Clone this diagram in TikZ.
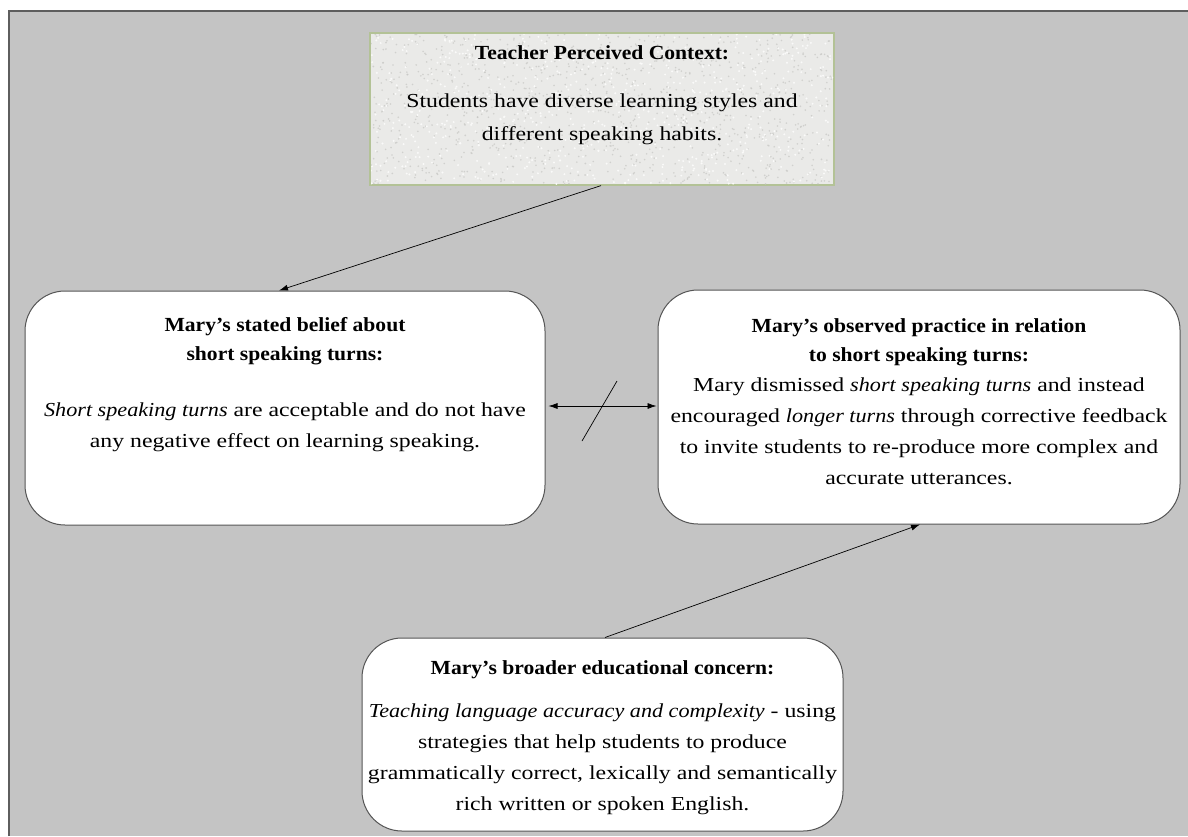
\documentclass[tikz,border=0pt]{standalone}
\usepackage{fontspec}
\setmainfont{Liberation Serif}[FakeStretch=1.2]
\newfontfamily\headfont{Liberation Serif Bold}[FakeStretch=1.08, Ligatures=TeX]
\newfontfamily\emfont{Liberation Serif Italic}[FakeStretch=1.12, Ligatures=TeX]
\newcommand\itpart[1]{{\emfont #1}}
\usetikzlibrary{arrows.meta,calc}
\definecolor{panel}{HTML}{C4C4C4}
\definecolor{frameline}{HTML}{5E5E5E}
\definecolor{boxline}{HTML}{555555}
\definecolor{paper}{HTML}{EAEAE8}
\definecolor{grain}{HTML}{C6C6C3}
\definecolor{speck}{HTML}{FAFAF9}
\definecolor{paperedge}{HTML}{B3C296}
\begin{document}
\begin{tikzpicture}[x=1pt,y=-1pt,
  box/.style={draw=boxline, line width=1pt, fill=white, rounded corners=40pt},
  head/.style={anchor=north, inner sep=0pt, align=center, font=\fontsize{20}{29.5}\selectfont\headfont},
  body/.style={anchor=north, inner sep=0pt, align=center, font=\fontsize{19.8}{31}\selectfont},
  link/.style={-{Latex[length=9pt,width=6pt]}, line width=0.7pt},
  twoway/.style={{Latex[length=9pt,width=6pt]}-{Latex[length=9pt,width=6pt]}, line width=0.7pt}
]
\useasboundingbox (0,0) rectangle (1188,836);
% grey panel with its darker top and left edges
\fill[panel] (9,11) rectangle (1188,836);
\draw[frameline, line width=2pt] (9,836) -- (9,11) -- (1188,11);

% context box with a granite-like paper fill
\node[draw=paperedge, line width=1.2pt, fill=paper, minimum width=464pt, minimum height=152pt, inner sep=0pt] (context) at (602,109) {};
\pgfmathsetseed{11}
\begin{scope}
  \clip (371,34) rectangle (833,184);
  \foreach \i in {1,...,1100}{
    \pgfmathsetmacro{\gx}{371+462*rnd}
    \pgfmathsetmacro{\gy}{34+150*rnd}
    \fill[grain, opacity=0.7] (\gx,\gy) circle (0.9pt);
  }
  \foreach \i in {1,...,700}{
    \pgfmathsetmacro{\gx}{371+462*rnd}
    \pgfmathsetmacro{\gy}{34+150*rnd}
    \fill[speck] (\gx,\gy) circle (1.1pt);
  }
\end{scope}
\node[head] (contexthead) at (602,45.3) {Teacher Perceived Context:};
\node[body, font=\fontsize{19.8}{33.5}\selectfont] (contexttext) at (602,93.5) {Students have diverse learning styles and\\different speaking habits.};

% belief box
\node[box, minimum width=520pt, minimum height=234pt] (belief) at (285,408) {};
\node[head] (belieffhead) at (285,317.2) {Mary's stated belief about\\short speaking turns:};
\node[body] (belieftext) at (285,402.4) {\itpart{Short speaking turns} are acceptable and do not have\\any negative effect on learning speaking.};

% practice box
\node[box, minimum width=522pt, minimum height=234pt] (practice) at (919,407) {};
\node[head] (practicehead) at (919,318.2) {Mary's observed practice in relation\\to short speaking turns:};
\node[body] (practicetext) at (919,377.4) {Mary dismissed \itpart{short speaking turns} and instead\\encouraged \itpart{longer turns} through corrective feedback\\to invite students to re-produce more complex and\\accurate utterances.};

% concern box
\node[box, minimum width=481pt, minimum height=193pt] (concern) at (602.5,734.5) {};
\node[head] (concernhead) at (602.5,660.2) {Mary's broader educational concern:};
\node[body] (concerntext) at (602.5,703.4) {\itpart{Teaching language accuracy and complexity} - using\\strategies that help students to produce\\grammatically correct, lexically and semantically\\rich written or spoken English.};

% connectors
\draw[link] ($(context.south)+(-1,0)$) -- ($(belief.north)+(-6,0)$);
\draw[twoway] ($(belief.east)+(3,-2)$) -- ($(practice.west)+(-1,-1)$);
\coordinate (slashtop) at (617,381);
\coordinate (slashbottom) at (582,441);
\draw[line width=0.7pt] (slashtop) -- (slashbottom);
\draw[link] ($(concern.north)+(2.5,0)$) -- ($(practice.south)+(1,0)$);
\end{tikzpicture}
\end{document}
